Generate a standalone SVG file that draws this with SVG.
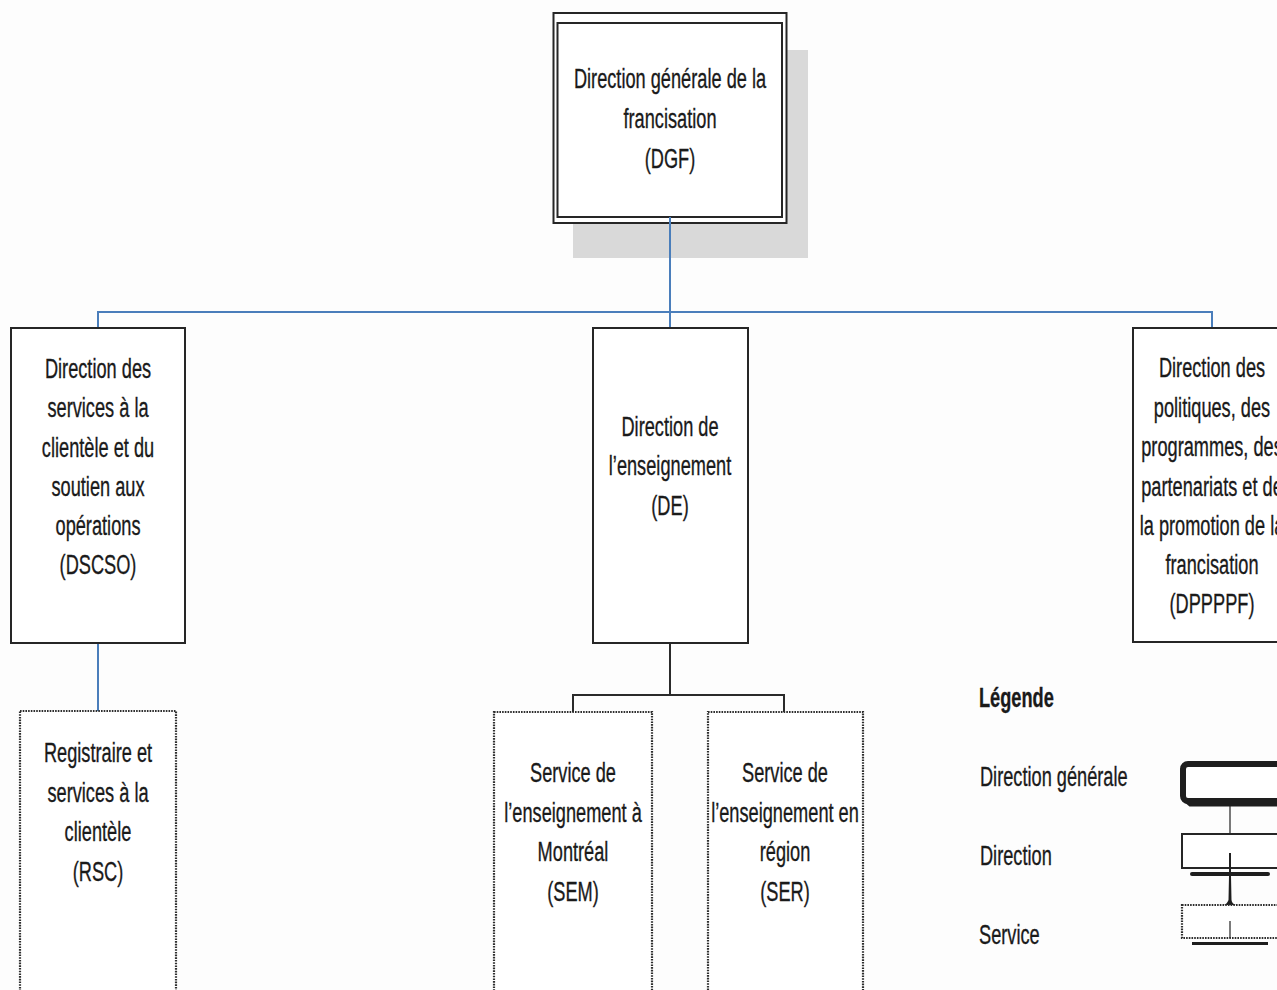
<svg xmlns="http://www.w3.org/2000/svg" width="1277" height="990" viewBox="0 0 1277 990">
  <style>
    .t { font-family: "Liberation Sans", Arial, sans-serif; font-size: 28px; fill: #1a1a1a; stroke: #1a1a1a; stroke-width: 0.35; text-anchor: middle; }
    .lg { text-anchor: start; }
    .b { font-weight: bold; }
    .blue { stroke: #4a7ebb; stroke-width: 2; fill: none; }
    .dark { stroke: #2b2b2b; stroke-width: 2; fill: none; }
    .box { fill: #ffffff; stroke: #262626; stroke-width: 2; }
    .svc { fill: #ffffff; stroke: #2e2e2e; stroke-width: 2.2; stroke-dasharray: 1.6 1.1; }
  </style>

  <rect x="0" y="0" width="1277" height="990" fill="#fdfdfd"/>

  <!-- DGF shadow and double frame -->
  <g id="node-dgf">
    <rect x="573" y="50" width="235" height="208" fill="#d9d9d9"/>
    <rect x="553.5" y="13" width="233" height="210" class="box" stroke-width="2.5"/>
    <rect x="557.5" y="23" width="224.5" height="194" class="box" stroke-width="2.5"/>
  </g>

  <!-- connectors -->
  <g id="connectors">
    <path class="blue" d="M670 217 V328"/>
    <path class="blue" d="M98 328 V312 H1212 V328"/>
    <path class="blue" d="M98 643 V711"/>
    <path class="dark" d="M670 643 V695 M573 712 V695 H784 V712"/>
  </g>

  <g id="node-dgf-text" transform="translate(670 0) scale(0.65 1)">
    <text class="t"><tspan x="0" y="88">Direction générale de la</tspan><tspan x="0" y="128">francisation</tspan><tspan x="0" y="168">(DGF)</tspan></text>
  </g>

  <g id="node-dscso">
    <rect x="11" y="328" width="174" height="315" class="box"/>
    <g transform="translate(98 0) scale(0.65 1)">
      <text class="t"><tspan x="0" y="378">Direction des</tspan><tspan x="0" y="417.5">services à la</tspan><tspan x="0" y="457">clientèle et du</tspan><tspan x="0" y="496">soutien aux</tspan><tspan x="0" y="535">opérations</tspan><tspan x="0" y="574">(DSCSO)</tspan></text>
    </g>
  </g>

  <g id="node-de">
    <rect x="593" y="328" width="155" height="315" class="box"/>
    <g transform="translate(670 0) scale(0.65 1)">
      <text class="t"><tspan x="0" y="436">Direction de</tspan><tspan x="0" y="475.5">l’enseignement</tspan><tspan x="0" y="515">(DE)</tspan></text>
    </g>
  </g>

  <g id="node-dppppf">
    <rect x="1133" y="328" width="160" height="314" class="box"/>
    <g transform="translate(1212 0) scale(0.65 1)">
      <text class="t"><tspan x="0" y="377">Direction des</tspan><tspan x="0" y="417">politiques, des</tspan><tspan x="0" y="456">programmes, des</tspan><tspan x="0" y="496">partenariats et de</tspan><tspan x="0" y="535">la promotion de la</tspan><tspan x="0" y="574">francisation</tspan><tspan x="0" y="613">(DPPPPF)</tspan></text>
    </g>
  </g>

  <g id="node-rsc">
    <rect x="20" y="711" width="156" height="300" class="svc"/>
    <g transform="translate(98 0) scale(0.65 1)">
      <text class="t"><tspan x="0" y="762">Registraire et</tspan><tspan x="0" y="802">services à la</tspan><tspan x="0" y="841">clientèle</tspan><tspan x="0" y="881">(RSC)</tspan></text>
    </g>
  </g>

  <g id="node-sem">
    <rect x="494" y="712" width="158" height="300" class="svc"/>
    <g transform="translate(573 0) scale(0.65 1)">
      <text class="t"><tspan x="0" y="782">Service de</tspan><tspan x="0" y="822">l’enseignement à</tspan><tspan x="0" y="861">Montréal</tspan><tspan x="0" y="901">(SEM)</tspan></text>
    </g>
  </g>

  <g id="node-ser">
    <rect x="708" y="712" width="155" height="300" class="svc"/>
    <g transform="translate(785 0) scale(0.65 1)">
      <text class="t"><tspan x="0" y="782">Service de</tspan><tspan x="0" y="822">l’enseignement en</tspan><tspan x="0" y="861">région</tspan><tspan x="0" y="901">(SER)</tspan></text>
    </g>
  </g>

  <!-- legend -->
  <g id="legend">
    <g transform="translate(979 0) scale(0.65 1)">
      <text class="t lg b" x="0" y="707">Légende</text>
      <text class="t lg" x="1.5" y="786">Direction générale</text>
      <text class="t lg" x="1.5" y="865">Direction</text>
      <text class="t lg" x="0" y="944">Service</text>
    </g>
    <rect x="1183" y="764" width="120" height="37" rx="5" fill="#ffffff" stroke="#1e1e1e" stroke-width="6"/>
    <path d="M1186 801.5 L1190 805 H1300" stroke="#1e1e1e" stroke-width="3" fill="none"/>
    <path d="M1230 806 V834" stroke="#222" stroke-width="1.2"/>
    <rect x="1182" y="834" width="120" height="34" class="box"/>
    <path d="M1230 853 V880" stroke="#222" stroke-width="2"/>
    <path d="M1192 874 H1268" stroke="#1e1e1e" stroke-width="4" stroke-linecap="round"/>
    <path d="M1229 876 L1228.5 900 Q1227 904 1224 905 H1236 Q1232 904 1231.5 900 L1231 876 Z" fill="#1e1e1e"/>
    <rect x="1182" y="905" width="120" height="33" class="svc"/>
    <path d="M1230 921 V938" stroke="#222" stroke-width="1.2"/>
    <path d="M1192 943.5 H1268" stroke="#1e1e1e" stroke-width="3"/>
  </g>
</svg>
